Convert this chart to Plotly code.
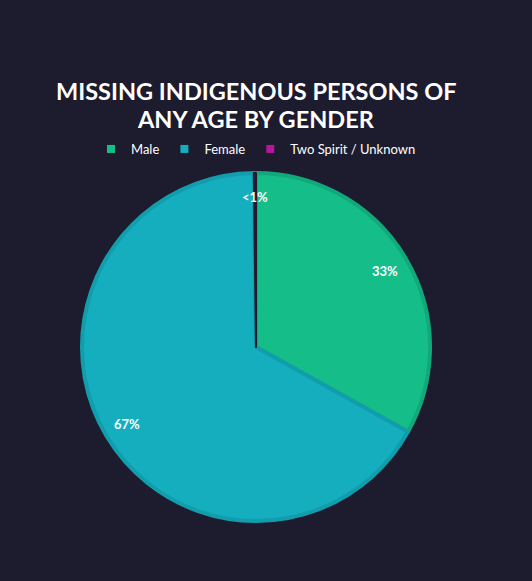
import math
import plotly.graph_objects as go

genders = ['Male', 'Female', 'Two Spirit / Unknown']
counts = [331, 667, 2]
pct_labels = ['33%', '67%', '<1%']

fill_colors = ['#15be89', '#14aebe', '#b5169c']
edge_colors = ['#12a97a', '#129dac', '#221a30']
edge_widths = [4, 4, 2]

bg = '#1d1b2e'
title_lines = ['MISSING INDIGENOUS PERSONS OF', 'ANY AGE BY GENDER']

fig = go.Figure()

fig.add_trace(go.Pie(
    labels=genders,
    values=counts,
    sort=False,
    direction='clockwise',
    rotation=0,
    textinfo='none',
    hoverinfo='label+percent',
    marker=dict(colors=fill_colors, line=dict(color=edge_colors, width=edge_widths)),
    domain=dict(x=[0, 1], y=[0, 1]),
    showlegend=False,
))

# small square legend keys
for g, c in zip(genders, fill_colors):
    fig.add_trace(go.Scatter(
        x=[None], y=[None], mode='markers', name=g,
        marker=dict(symbol='square', size=8, color=c),
    ))

# percentage labels placed along each slice's bisector
total = sum(counts)
cum = 0
for v, lab in zip(counts, pct_labels):
    mid = (cum + v / 2) / total * 2 * math.pi
    cum += v
    r = 0.43
    fig.add_annotation(
        x=0.5 + r * math.sin(mid), y=0.5 + r * math.cos(mid),
        xref='paper', yref='paper', text=lab, showarrow=False,
        xanchor='center', yanchor='middle',
        font=dict(family='Lato', size=13, color='white', weight='bold'),
    )

# two-line title
for i, line in enumerate(title_lines):
    fig.add_annotation(
        x=0.5, y=1 + (82 - 28 * i) / 348, xref='paper', yref='paper',
        text=line, showarrow=False, xanchor='center', yanchor='middle',
        font=dict(family='Lato', size=23.5, color='white', weight='bold'),
    )

fig.update_layout(
    width=532, height=581,
    paper_bgcolor=bg, plot_bgcolor=bg,
    margin=dict(l=82, r=102, t=173, b=60),
    xaxis=dict(visible=False),
    yaxis=dict(visible=False),
    legend=dict(
        orientation='h', x=0.5, xanchor='center', y=1.069, yanchor='middle',
        font=dict(family='Lato', size=13, color='white'),
        itemwidth=30, traceorder='normal',
    ),
    showlegend=True,
)

fig.write_html('out.html', config={'displayModeBar': False},
               post_script="document.body.style.margin='0';")
